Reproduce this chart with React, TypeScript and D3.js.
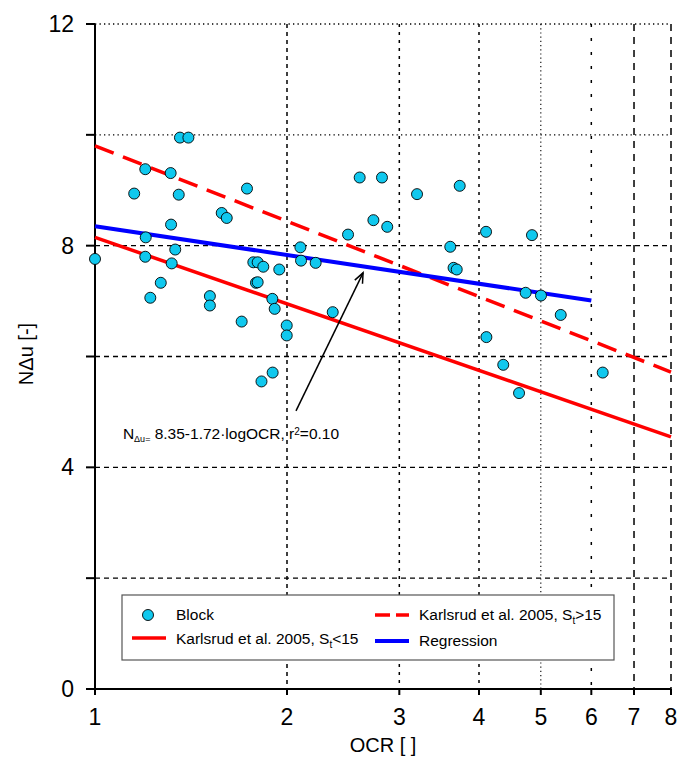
import React from "react";
import * as d3 from "d3";

// Block data (OCR, NΔu)
const ocrValues = [
  1.0, 1.152, 1.199, 1.201, 1.199, 1.221, 1.268, 1.314, 1.316, 1.319, 1.336, 1.353, 1.359, 1.401,
  1.514, 1.514, 1.58, 1.609, 1.698, 1.731, 1.771, 1.799, 1.836, 1.788, 1.799, 1.897, 1.913, 1.945,
  1.998, 1.998, 1.824, 1.899, 2.099, 2.104, 2.218, 2.359, 2.493, 2.6, 2.818, 2.732, 2.872, 3.198,
  3.731, 3.606, 3.649, 3.691, 4.103, 4.843, 4.734, 5.003, 5.373, 4.108, 4.366, 4.622, 6.252,
];
const nduValues = [
  7.76, 8.94, 9.38, 8.15, 7.8, 7.06, 7.33, 9.31, 8.38, 7.68, 7.93, 8.92, 9.95, 9.95,
  7.09, 6.92, 8.59, 8.5, 6.63, 9.03, 7.7, 7.7, 7.62, 7.33, 7.34, 7.04, 6.86, 7.57,
  6.56, 6.38, 5.55, 5.71, 7.97, 7.73, 7.69, 6.8, 8.2, 9.23, 9.23, 8.46, 8.34, 8.93,
  9.08, 7.98, 7.6, 7.57, 8.25, 8.19, 7.15, 7.1, 6.75, 6.35, 5.85, 5.34, 5.71,
];

// Reference lines
const karlsrudX = [1, 8];
const karlsrudLowY = [8.15, 4.55];
const karlsrudHighY = [9.8, 5.72];
const regressionX = [1, 6];
const regressionY = [8.35, 7.01];

// Axes
const xTicks = [1, 2, 3, 4, 5, 6, 7, 8];
const yGrid = [2, 4, 6, 8, 10, 12];
const yTickMarks = [0, 2, 4, 6, 8, 10, 12];
const yTickLabels = [0, 4, 8, 12];

// Annotation (data coords)
const arrowTail = [2.066, 5.02];
const arrowTip = [2.632, 7.51];
const annotationPos = [1.106, 4.51];

const FONT = "'Liberation Sans', Arial, sans-serif";

const vGridDash: Record<number, string> = {
  2: "4 4",
  3: "3 5",
  4: "3 5",
  5: "1.2 3",
  6: "3 11",
  7: "7 6",
  8: "7 6",
};

export default function App() {
  const x = d3.scaleLog().domain([1, 8]).range([95, 671]);
  const y = d3.scaleLinear().domain([0, 12]).range([689, 24]);
  const line = d3
    .line<[number, number]>()
    .x((d) => x(d[0]))
    .y((d) => y(d[1]));

  const lowPts = karlsrudX.map((v, i) => [v, karlsrudLowY[i]] as [number, number]);
  const highPts = karlsrudX.map((v, i) => [v, karlsrudHighY[i]] as [number, number]);
  const regPts = regressionX.map((v, i) => [v, regressionY[i]] as [number, number]);

  // Arrow geometry
  const tx = x(arrowTail[0]);
  const ty = y(arrowTail[1]);
  const hx = x(arrowTip[0]);
  const hy = y(arrowTip[1]);
  const ang = Math.atan2(hy - ty, hx - tx);
  const ah = 11;
  const spread = 0.4;
  const a1 = [hx - ah * Math.cos(ang - spread), hy - ah * Math.sin(ang - spread)];
  const a2 = [hx - ah * Math.cos(ang + spread), hy - ah * Math.sin(ang + spread)];

  return (
    <svg
      width={680}
      height={760}
      style={{ position: "absolute", left: 0, top: 0, background: "#fff" }}
      fontFamily={FONT}
    >
      <rect x={0} y={0} width={680} height={760} fill="#fff" />
      {/* horizontal grid */}
      {yGrid.map((v) => (
        <line
          key={"hg" + v}
          x1={x(1)}
          x2={x(8)}
          y1={y(v)}
          y2={y(v)}
          stroke="#000"
          strokeWidth={1.4}
          strokeDasharray={v >= 10 ? "1.3 3.2" : "5 4"}
        />
      ))}
      {/* vertical grid */}
      {xTicks
        .filter((v) => v > 1)
        .map((v) => (
          <line
            key={"vg" + v}
            x1={x(v)}
            x2={x(v)}
            y1={y(12)}
            y2={y(0)}
            stroke="#000"
            strokeWidth={v === 5 ? 1.1 : 1.5}
            strokeDasharray={vGridDash[v]}
          />
        ))}
      {/* axes */}
      <line x1={x(1)} x2={x(1)} y1={y(12)} y2={y(0)} stroke="#000" strokeWidth={2} />
      <line x1={86} x2={x(8)} y1={y(0)} y2={y(0)} stroke="#000" strokeWidth={2} />
      {yTickMarks.map((v) => (
        <line key={"yt" + v} x1={86} x2={x(1)} y1={y(v)} y2={y(v)} stroke="#000" strokeWidth={2} />
      ))}
      {xTicks.map((v) => (
        <line key={"xt" + v} x1={x(v)} x2={x(v)} y1={y(0)} y2={y(0) + 6} stroke="#000" strokeWidth={2} />
      ))}
      {yTickLabels.map((v) => (
        <text key={"yl" + v} x={74} y={y(v) + 8} textAnchor="end" fontSize={23} fill="#000">
          {v}
        </text>
      ))}
      {xTicks.map((v) => (
        <text key={"xl" + v} x={x(v)} y={725} textAnchor="middle" fontSize={23} fill="#000">
          {v}
        </text>
      ))}
      <text x={383} y={752} textAnchor="middle" fontSize={20} fill="#000">
        OCR [ ]
      </text>
      <text
        transform="translate(33,354) rotate(-90)"
        textAnchor="middle"
        fontSize={20}
        fill="#000"
      >
        NΔu [-]
      </text>

      {/* reference lines */}
      <path d={line(lowPts) || ""} fill="none" stroke="#ff0000" strokeWidth={3.5} />
      <path
        d={line(highPts) || ""}
        fill="none"
        stroke="#ff0000"
        strokeWidth={3.5}
        strokeDasharray="20 10"
      />
      <path d={line(regPts) || ""} fill="none" stroke="#0000ff" strokeWidth={4} />

      {/* points */}
      {ocrValues.map((v, i) => (
        <circle
          key={"p" + i}
          cx={x(v)}
          cy={y(nduValues[i])}
          r={5.5}
          fill="#10c8ee"
          stroke="#000"
          strokeWidth={0.9}
        />
      ))}

      {/* annotation */}
      <line x1={tx} y1={ty} x2={hx} y2={hy} stroke="#000" strokeWidth={1.5} />
      <polyline
        points={`${a1[0]},${a1[1]} ${hx},${hy} ${a2[0]},${a2[1]}`}
        fill="none"
        stroke="#000"
        strokeWidth={1.5}
      />
      <text x={x(annotationPos[0])} y={y(annotationPos[1])} fontSize={15.5} fill="#000">
        N
        <tspan fontSize={9} dy={3}>Δu=</tspan>
        <tspan dy={-3}> 8.35-1.72·logOCR, r</tspan>
        <tspan fontSize={10} dy={-4}>2</tspan>
        <tspan dy={4}>=0.10</tspan>
      </text>

      {/* legend */}
      <rect x={122} y={595} width={492} height={65} fill="#fff" stroke="#555" strokeWidth={1.2} />
      <circle cx={148} cy={615} r={5.5} fill="#10c8ee" stroke="#000" strokeWidth={0.9} />
      <text x={176} y={620} fontSize={15.5} fill="#000">
        Block
      </text>
      <line x1={132} x2={166} y1={638} y2={638} stroke="#ff0000" strokeWidth={3.5} />
      <text x={176} y={644} fontSize={15.5} fill="#000">
        Karlsrud et al. 2005, S<tspan fontSize={10} dy={4}>t</tspan>
        <tspan dy={-4}>&lt;15</tspan>
      </text>
      <line
        x1={375}
        x2={409}
        y1={615}
        y2={615}
        stroke="#ff0000"
        strokeWidth={3.5}
        strokeDasharray="15 6"
      />
      <text x={419} y={620} fontSize={15.5} fill="#000">
        Karlsrud et al. 2005, S<tspan fontSize={10} dy={4}>t</tspan>
        <tspan dy={-4}>&gt;15</tspan>
      </text>
      <line x1={375} x2={409} y1={641} y2={641} stroke="#0000ff" strokeWidth={4} />
      <text x={419} y={646} fontSize={15.5} fill="#000">
        Regression
      </text>
    </svg>
  );
}
